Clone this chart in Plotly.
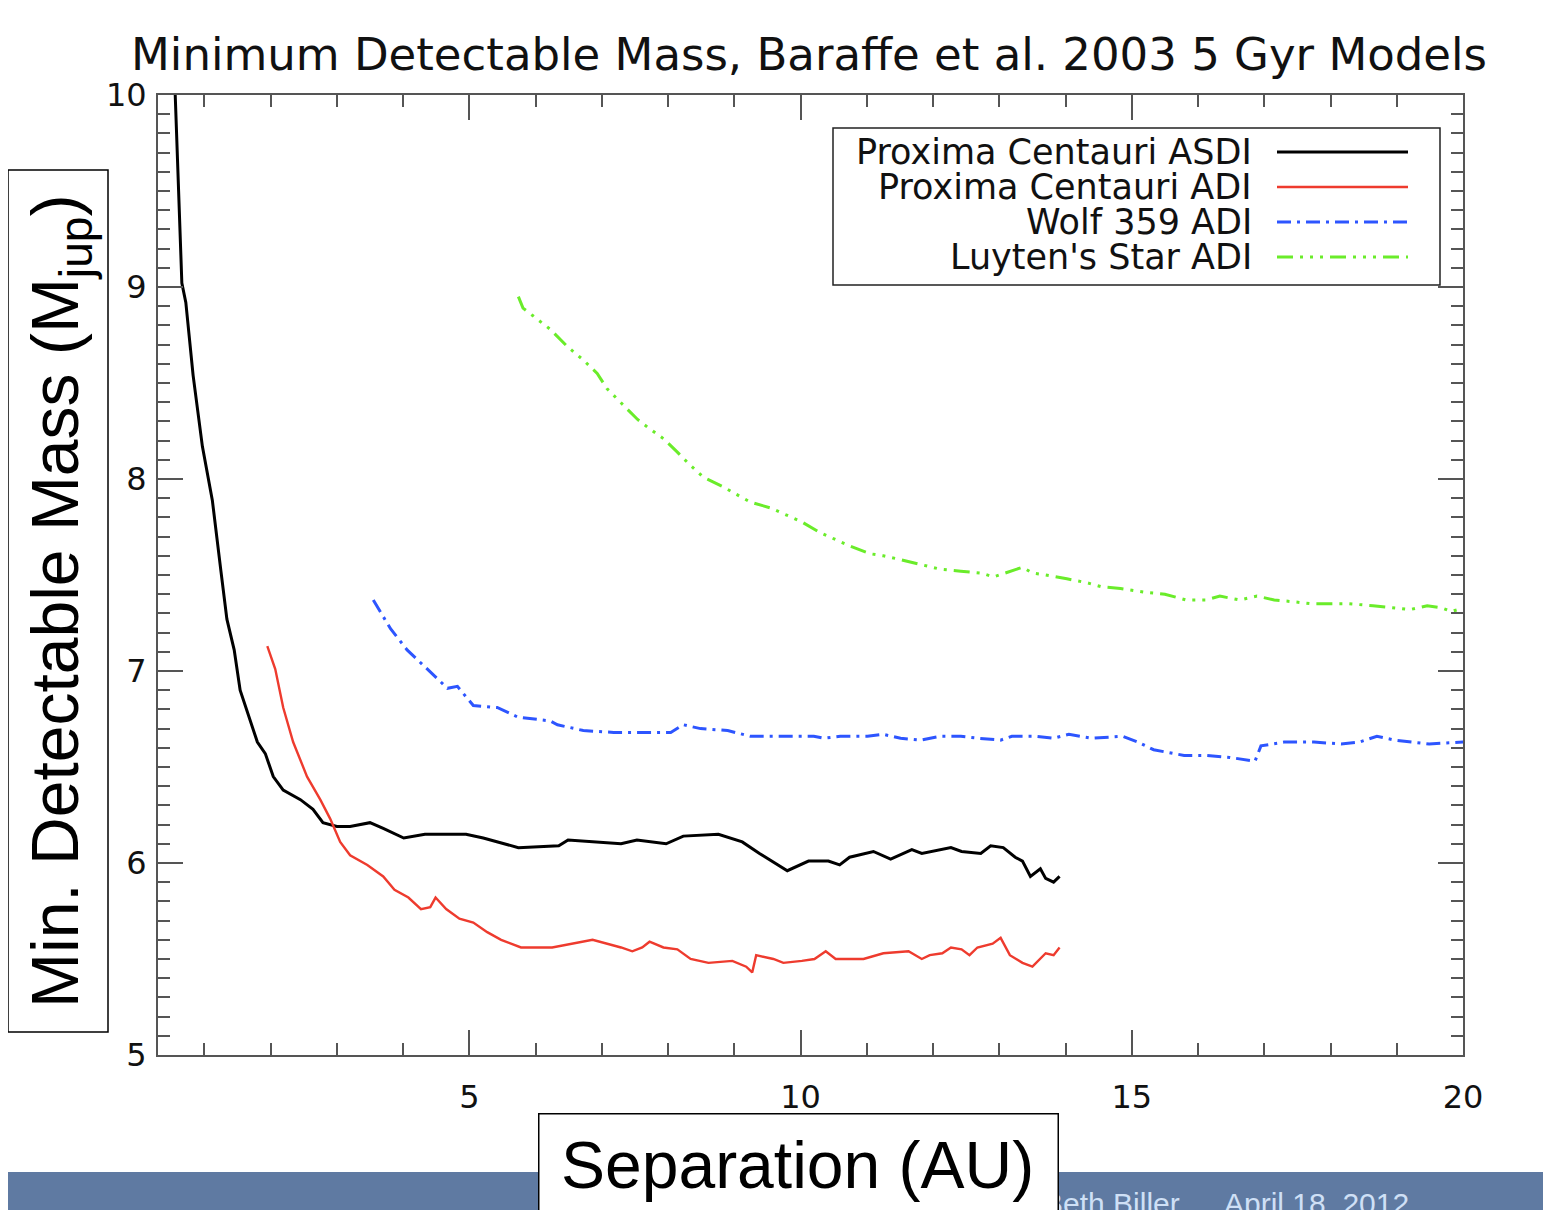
import plotly.graph_objects as go

# Proxima Centauri ASDI
sep_asdi = [0.56, 0.66, 0.72, 0.83, 0.97, 1.12, 1.25, 1.34, 1.45, 1.54, 1.80, 1.92, 2.04, 2.19, 2.45,
            2.64, 2.79, 3.00, 3.20, 3.50, 3.70, 4.01, 4.33, 4.95, 5.21, 5.74, 6.35, 6.49, 7.29, 7.53,
            7.97, 8.23, 8.76, 9.12, 9.38, 9.80, 10.12, 10.42, 10.59, 10.74, 11.10, 11.36, 11.68, 11.83,
            12.27, 12.43, 12.72, 12.87, 13.06, 13.24, 13.35, 13.47, 13.62, 13.70, 13.82, 13.91]
mass_asdi = [10.0, 9.02, 8.92, 8.54, 8.17, 7.89, 7.52, 7.27, 7.11, 6.90, 6.63, 6.57, 6.45, 6.38, 6.33,
             6.28, 6.21, 6.19, 6.19, 6.21, 6.18, 6.13, 6.15, 6.15, 6.13, 6.08, 6.09, 6.12, 6.10, 6.12,
             6.10, 6.14, 6.15, 6.11, 6.05, 5.96, 6.01, 6.01, 5.99, 6.03, 6.06, 6.02, 6.07, 6.05,
             6.08, 6.06, 6.05, 6.09, 6.08, 6.03, 6.01, 5.93, 5.97, 5.92, 5.90, 5.93]

# Proxima Centauri ADI
sep_prox = [1.95, 2.07, 2.19, 2.34, 2.55, 2.75, 2.90, 3.05, 3.20, 3.46, 3.70, 3.87, 4.08, 4.27, 4.41,
            4.49, 4.65, 4.85, 5.06, 5.27, 5.48, 5.78, 6.25, 6.57, 6.86, 7.29, 7.46, 7.61, 7.72, 7.93,
            8.14, 8.34, 8.61, 8.97, 9.18, 9.27, 9.33, 9.59, 9.74, 10.02, 10.21, 10.38, 10.53, 10.95,
            11.25, 11.63, 11.83, 11.95, 12.14, 12.27, 12.43, 12.55, 12.67, 12.90, 13.02, 13.16, 13.35,
            13.50, 13.70, 13.82, 13.91]
mass_prox = [7.13, 7.01, 6.81, 6.63, 6.45, 6.33, 6.23, 6.11, 6.04, 5.99, 5.93, 5.86, 5.82, 5.76, 5.77,
             5.82, 5.76, 5.71, 5.69, 5.64, 5.60, 5.56, 5.56, 5.58, 5.60, 5.56, 5.54, 5.56, 5.59, 5.56,
             5.55, 5.50, 5.48, 5.49, 5.46, 5.43, 5.52, 5.50, 5.48, 5.49, 5.50, 5.54, 5.50, 5.50,
             5.53, 5.54, 5.50, 5.52, 5.53, 5.56, 5.55, 5.52, 5.56, 5.58, 5.61, 5.52, 5.48,
             5.46, 5.53, 5.52, 5.56]

# Wolf 359 ADI
sep_wolf = [3.55, 3.81, 4.06, 4.37, 4.67, 4.82, 5.06, 5.42, 5.73, 6.22, 6.33, 6.72, 7.18, 7.58, 8.04,
            8.23, 8.49, 8.90, 9.24, 9.74, 10.20, 10.35, 10.60, 11.01, 11.25, 11.51, 11.81, 12.11, 12.42,
            12.67, 13.02, 13.19, 13.53, 13.82, 14.05, 14.40, 14.86, 15.09, 15.33, 15.79, 16.13, 16.48,
            16.86, 16.95, 17.30, 17.75, 18.16, 18.44, 18.70, 18.97, 19.49, 20.01]
mass_wolf = [7.37, 7.22, 7.11, 7.01, 6.91, 6.92, 6.82, 6.81, 6.76, 6.74, 6.72, 6.69, 6.68, 6.68, 6.68,
             6.72, 6.70, 6.69, 6.66, 6.66, 6.66, 6.65, 6.66, 6.66, 6.67, 6.65, 6.64, 6.66, 6.66,
             6.65, 6.64, 6.66, 6.66, 6.65, 6.67, 6.65, 6.66, 6.63, 6.59, 6.56, 6.56, 6.55,
             6.53, 6.61, 6.63, 6.63, 6.62, 6.63, 6.66, 6.64, 6.62, 6.63]

# Luyten's Star ADI
sep_luyten = [5.74, 5.81, 5.96, 6.22, 6.48, 6.72, 6.93, 7.08, 7.28, 7.54, 7.69, 7.93, 8.14, 8.31, 8.53,
              8.83, 8.98, 9.24, 9.54, 9.74, 10.00, 10.30, 10.50, 10.75, 11.06, 11.25, 11.51, 11.86,
              12.11, 12.42, 12.73, 12.91, 13.35, 13.50, 13.70, 14.02, 14.32, 14.53, 14.83, 15.20, 15.50,
              15.82, 16.12, 16.33, 16.63, 16.89, 17.15, 17.46, 17.72, 18.02, 18.28, 18.64, 18.94, 19.20,
              19.46, 19.67, 19.82, 20.04]
mass_luyten = [8.95, 8.89, 8.85, 8.78, 8.69, 8.62, 8.55, 8.47, 8.40, 8.31, 8.27, 8.21, 8.14, 8.08, 8.01,
               7.96, 7.93, 7.88, 7.85, 7.82, 7.78, 7.72, 7.69, 7.65, 7.61, 7.60, 7.58, 7.55,
               7.53, 7.52, 7.51, 7.49, 7.54, 7.51, 7.50, 7.48, 7.46, 7.44, 7.43, 7.41, 7.40,
               7.37, 7.37, 7.39, 7.37, 7.39, 7.37, 7.36, 7.35, 7.35, 7.35, 7.34, 7.33, 7.32,
               7.34, 7.33, 7.31, 7.33]

names = ["Proxima Centauri ASDI", "Proxima Centauri ADI", "Wolf 359 ADI", "Luyten's Star ADI"]
colors = ["#000000", "#ee3b2e", "#2d55ff", "#6aec2a"]
dashes = ["solid", "solid", "14px,6px,3px,6px", "16px,7px,3px,7px,3px,7px,3px,7px"]
widths = [3.0, 2.4, 3.0, 3.0]

# page body adds an 8px margin, so the figure is drawn 8px smaller and the
# positions below are given in reference pixels
OFF = 8
W, H = 1551 - OFF, 1210 - OFF
L, R, T, B = 158, 1463, 95, 1055


def px(x):
    return (x - L) / (R - L)


def py(y):
    return (B - y) / (B - T)


tick_font = dict(family="DejaVu Sans", size=32, color="#111111")

fig = go.Figure()
series = [(sep_asdi, mass_asdi), (sep_prox, mass_prox), (sep_wolf, mass_wolf), (sep_luyten, mass_luyten)]
for (xs, ys), name, c, d, w in zip(series, names, colors, dashes, widths):
    fig.add_trace(go.Scatter(x=xs, y=ys, mode="lines", name=name,
                             line=dict(color=c, dash=d, width=w), showlegend=False))

axis_common = dict(showgrid=False, zeroline=False, showline=True, linecolor="#555555", linewidth=2,
                   mirror="allticks", ticks="inside", tickcolor="#555555", tickwidth=2,
                   tickfont=tick_font)
fig.update_xaxes(range=[0.3, 20], tick0=0, dtick=5, ticklen=25, ticklabelstandoff=13,
                 minor=dict(ticks="inside", dtick=1, tick0=0, ticklen=12, tickcolor="#555555",
                            tickwidth=2, showgrid=False),
                 **axis_common)
fig.update_yaxes(range=[5, 10], tick0=5, dtick=1, ticklen=25, ticklabelstandoff=3,
                 minor=dict(ticks="inside", dtick=0.1, tick0=5, ticklen=12, tickcolor="#555555",
                            tickwidth=2, showgrid=False),
                 **axis_common)

shapes = []
# blue footer bar of the slide
shapes.append(dict(type="rect", xref="paper", yref="paper", x0=px(0), x1=px(1560), y0=py(1172), y1=py(1220),
                   fillcolor="#5f7aa2", line=dict(width=0)))
# y title box
shapes.append(dict(type="rect", xref="paper", yref="paper", x0=px(8), x1=px(108), y0=py(170), y1=py(1032),
                   fillcolor="white", line=dict(color="black", width=1.5)))
# legend box
shapes.append(dict(type="rect", xref="paper", yref="paper", x0=px(833), x1=px(1440), y0=py(128), y1=py(285),
                   fillcolor="white", line=dict(color="#222222", width=1.5)))
leg_rows = [152, 187, 222, 257]
for row, c, d, w in zip(leg_rows, colors, dashes, widths):
    shapes.append(dict(type="line", xref="paper", yref="paper", x0=px(1277), x1=px(1408),
                       y0=py(row), y1=py(row), line=dict(color=c, dash=d, width=w)))

annotations = []
for row, name in zip(leg_rows, names):
    annotations.append(dict(text=name, xref="paper", yref="paper", x=px(1254), y=py(row),
                            xanchor="right", yanchor="middle", showarrow=False,
                            font=dict(family="DejaVu Sans", size=35, color="#111111")))
# y title
annotations.append(dict(text="Min. Detectable Mass (M<sub>jup</sub>)", xref="paper", yref="paper",
                        x=px(60), y=py(601), xanchor="center", yanchor="middle", textangle=-90,
                        showarrow=False, font=dict(family="Liberation Sans", size=66, color="black")))
# footer
annotations.append(dict(text="Beth Biller", xref="paper", yref="paper", x=px(1182), y=py(1203),
                        xanchor="right", yanchor="middle", showarrow=False,
                        font=dict(family="Liberation Sans", size=30, color="#cfe0f6")))
annotations.append(dict(text="April 18, 2012", xref="paper", yref="paper", x=px(1222), y=py(1203),
                        xanchor="left", yanchor="middle", showarrow=False,
                        font=dict(family="Liberation Sans", size=30, color="#cfe0f6")))
# x title box drawn over footer, then text
annotations.append(dict(text=" ", xref="paper", yref="paper", x=px(538), y=py(1113),
                        xanchor="left", yanchor="top", showarrow=False, width=518, height=140,
                        bgcolor="white", bordercolor="black", borderwidth=1.5, borderpad=0,
                        font=dict(size=10)))
annotations.append(dict(text="Separation (AU)", xref="paper", yref="paper", x=px(797), y=py(1165),
                        xanchor="center", yanchor="middle", showarrow=False,
                        font=dict(family="Liberation Sans", size=66, color="black")))

fig.update_layout(
    width=W, height=H, autosize=False,
    margin=dict(l=L - OFF, r=W - (R - OFF), t=T - OFF, b=H - (B - OFF), pad=0),
    paper_bgcolor="white", plot_bgcolor="white",
    title=dict(text="Minimum Detectable Mass, Baraffe et al. 2003 5 Gyr Models",
               x=(809 - OFF) / W, xanchor="center", y=1 - (54 - OFF) / H, yanchor="middle",
               font=dict(family="DejaVu Sans", size=45, color="#111111")),
    shapes=shapes, annotations=annotations, showlegend=False,
)

fig.write_html("out.html")
